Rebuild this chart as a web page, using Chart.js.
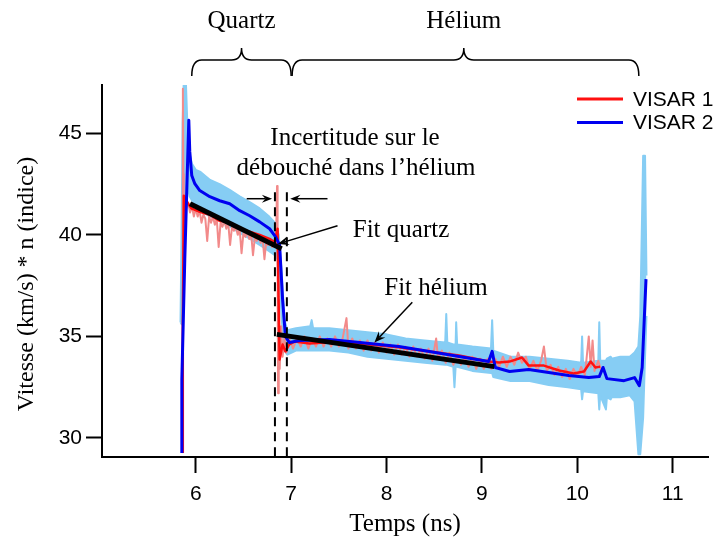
<!DOCTYPE html>
<html>
<head>
<meta charset="utf-8">
<script src="https://cdn.jsdelivr.net/npm/chart.js@4.4.1/dist/chart.umd.min.js"></script>
<style>
  html, body { margin: 0; padding: 0; background: #fff; }
  #wrap { width: 727px; height: 542px; }
</style>
</head>
<body>
<div id="wrap"><canvas id="myChart" width="727" height="542"></canvas></div>
<script>
// VISAR 2 brut (bande bleu clair) : enveloppe haute / basse
const tBlueRaw = [5.840, 5.852, 5.862, 5.875, 5.895, 5.915, 5.935, 5.960, 6.000, 6.050, 6.150, 6.250, 6.360, 6.460, 6.570, 6.670, 6.770, 6.830, 6.870, 6.900, 6.930, 6.960, 7.050, 7.200, 7.215, 7.230, 7.400, 7.600, 7.800, 8.000, 8.200, 8.400, 8.615, 8.626, 8.637, 8.700, 8.712, 8.724, 8.730, 8.740, 8.900, 9.095, 9.107, 9.119, 9.300, 9.500, 9.700, 9.900, 10.040, 10.050, 10.060, 10.220, 10.230, 10.240, 10.300, 10.310, 10.350, 10.360, 10.450, 10.550, 10.600, 10.640, 10.660, 10.690, 10.710, 10.725];
const blueRawHigh = [35.7, 40.5, 45.5, 47.7, 47.7, 45.0, 44.0, 43.5, 43.2, 43.1, 42.7, 42.5, 42.2, 41.9, 41.6, 41.3, 40.9, 40.6, 40.0, 38.2, 35.8, 35.3, 35.4, 35.5, 35.8, 35.4, 35.4, 35.3, 35.2, 35.1, 34.9, 34.8, 34.7, 36.1, 34.7, 34.6, 34.6, 34.6, 35.7, 34.6, 34.5, 34.4, 35.8, 34.3, 34.0, 34.0, 33.9, 33.8, 33.7, 35.0, 33.7, 33.8, 35.7, 33.8, 33.8, 33.9, 34.0, 33.9, 34.0, 34.0, 34.2, 34.5, 36.0, 43.9, 43.9, 38.0];
const blueRawLow = [35.7, 35.6, 36.5, 39.0, 42.0, 42.4, 41.9, 41.7, 41.4, 41.2, 40.9, 40.7, 40.4, 40.1, 39.8, 39.5, 39.2, 39.0, 38.7, 35.9, 34.3, 34.1, 34.3, 34.3, 34.3, 34.3, 34.3, 34.2, 34.0, 33.9, 33.8, 33.7, 33.6, 33.6, 33.6, 33.5, 32.5, 33.5, 33.5, 33.5, 33.3, 33.2, 33.2, 33.0, 32.8, 32.8, 32.6, 32.5, 32.4, 31.9, 32.3, 32.2, 31.4, 32.1, 31.4, 32.0, 31.9, 32.0, 32.0, 32.1, 31.8, 29.2, 29.2, 31.0, 34.0, 36.0];

// VISAR 1 brut (rouge clair)
const tRedRaw = [5.862, 5.864, 5.866, 5.870, 5.874,
  5.88, 5.90, 5.92, 5.94, 5.96, 5.98, 6.00, 6.02, 6.04, 6.06, 6.08, 6.10, 6.12, 6.14, 6.16, 6.18, 6.20, 6.22, 6.24, 6.26, 6.28, 6.30, 6.32, 6.34, 6.36, 6.38, 6.40, 6.42, 6.44, 6.46, 6.48, 6.50, 6.52, 6.54, 6.56, 6.58, 6.60, 6.62, 6.64, 6.66, 6.68, 6.70, 6.72, 6.74, 6.76, 6.78, 6.80, 6.82, 6.84,
  6.852, 6.858, 6.863, 6.870, 6.880, 6.895, 6.910, 6.930, 6.950,
  6.98, 7.02, 7.06, 7.10, 7.14, 7.18, 7.22, 7.26, 7.30, 7.34, 7.38, 7.42, 7.46, 7.50, 7.54, 7.58, 7.60, 7.64, 7.68, 7.72, 7.76, 7.80, 7.84, 7.88, 7.92, 7.96, 8.00, 8.04, 8.08, 8.12, 8.16, 8.20, 8.24, 8.28, 8.32, 8.36, 8.40, 8.44, 8.48, 8.52, 8.54, 8.58, 8.62, 8.66, 8.70, 8.74, 8.78, 8.82, 8.86, 8.90, 8.94, 8.98, 9.02, 9.06, 9.10, 9.14, 9.18, 9.22, 9.26, 9.30, 9.34, 9.38, 9.42, 9.46, 9.50, 9.54, 9.58, 9.62, 9.65, 9.68, 9.72, 9.76, 9.80, 9.84, 9.88, 9.92, 9.96, 10.00, 10.04, 10.08, 10.12, 10.14, 10.16, 10.18, 10.22, 10.25];
const redRaw = [29.3, 38.0, 47.2, 43.0, 41.6,
  41.9, 41.3, 41.6, 41.1, 41.4, 40.9, 41.3, 40.9, 41.2, 40.6, 41.0, 40.8, 39.7, 40.9, 40.6, 40.9, 40.5, 40.8, 39.4, 40.6, 40.4, 40.7, 40.3, 40.6, 39.5, 40.4, 40.2, 40.4, 40.0, 40.3, 39.1, 40.1, 39.9, 40.2, 39.8, 40.1, 39.0, 39.9, 39.7, 40.0, 39.6, 39.9, 38.8, 39.7, 39.5, 39.8, 39.4, 39.7, 39.5,
  42.4, 38.5, 32.2, 36.8, 33.4, 35.5, 34.0, 34.9, 34.2,
  34.9, 34.4, 34.9, 34.5, 35.0, 34.4, 34.9, 34.5, 35.0, 34.5, 34.9, 34.5, 35.0, 34.5, 34.9, 35.9, 34.4, 34.9, 34.4, 34.8, 34.3, 34.8, 34.3, 34.7, 34.2, 34.7, 34.2, 34.6, 34.1, 34.6, 34.1, 34.5, 34.0, 34.5, 34.0, 34.4, 33.9, 34.4, 33.8, 34.9, 33.9, 34.3, 33.7, 34.2, 33.6, 34.1, 33.6, 34.0, 33.5, 34.0, 33.4, 33.9, 33.4, 33.9, 33.4, 33.9, 33.5, 34.0, 33.5, 34.0, 33.6, 34.2, 33.7, 34.0, 33.4, 33.8, 33.3, 33.8, 34.5, 33.3, 33.6, 33.1, 33.5, 33.0, 33.4, 32.9, 33.4, 33.0, 33.5, 33.1, 35.0, 33.5, 34.8, 33.3, 33.8, 33.3];

// VISAR 1 lissé (rouge)
const tRed = [5.864, 5.864, 5.875, 5.906, 5.958, 6.042, 6.147, 6.251, 6.356, 6.461, 6.565, 6.670, 6.774, 6.826, 6.858, 6.868, 6.879, 6.910, 6.940, 6.980, 7.040, 7.190, 7.510, 7.820, 8.130, 8.450, 8.760, 9.070, 9.180, 9.290, 9.420, 9.490, 9.650, 9.810, 9.960, 10.070, 10.140, 10.190, 10.240];
const red = [29.26, 35.35, 41.93, 41.63, 41.29, 41.14, 40.99, 40.69, 40.59, 40.30, 40.15, 40.00, 39.80, 39.65, 40.30, 36.83, 33.86, 34.60, 34.26, 34.60, 34.75, 34.65, 34.75, 34.60, 34.46, 34.26, 34.06, 33.76, 33.71, 33.76, 33.96, 33.56, 33.56, 33.32, 33.17, 33.27, 33.76, 33.47, 33.51];

// VISAR 2 lissé (bleu)
const tBlue = [5.854, 5.854, 5.885, 5.927, 5.937, 5.958, 5.990, 6.042, 6.147, 6.251, 6.356, 6.461, 6.565, 6.670, 6.774, 6.837, 6.879, 6.910, 6.940, 6.980, 7.090, 7.400, 7.720, 8.130, 8.450, 8.760, 9.070, 9.107, 9.140, 9.290, 9.490, 9.700, 9.910, 10.120, 10.230, 10.270, 10.310, 10.490, 10.600, 10.650, 10.680, 10.720];
const blue = [29.26, 32.87, 38.81, 45.64, 44.11, 42.92, 42.52, 42.18, 41.88, 41.68, 41.53, 41.19, 40.94, 40.64, 40.30, 39.90, 39.50, 36.83, 35.00, 34.70, 34.80, 34.85, 34.70, 34.50, 34.26, 34.01, 33.76, 34.26, 33.47, 33.27, 33.37, 33.22, 33.07, 32.97, 33.02, 33.47, 32.92, 32.82, 32.97, 32.57, 33.47, 37.82];

// fits linéaires
const fitQuartzT = [5.94, 6.90];
const fitQuartzV = [41.53, 39.31];
const fitHeliumT = [6.85, 9.13];
const fitHeliumV = [35.10, 33.51];

// incertitude sur le débouché (lignes pointillées)
const debouchT = [6.83, 6.955];

const xTickValues = [6, 7, 8, 9, 10, 11];
const yTickValues = [30, 35, 40, 45];

const serif = '"Liberation Serif", "Times New Roman", serif';
const sans = '"Liberation Sans", Arial, sans-serif';

function pts(xs, ys) {
    return xs.map((x, i) => ({ x: x, y: ys[i] }));
}

function drawArrow(ctx, x1, y1, x2, y2, head) {
    const a = Math.atan2(y2 - y1, x2 - x1);
    ctx.beginPath();
    ctx.moveTo(x1, y1);
    ctx.lineTo(x2 - Math.cos(a) * head * 0.6, y2 - Math.sin(a) * head * 0.6);
    ctx.stroke();
    ctx.beginPath();
    ctx.moveTo(x2, y2);
    ctx.lineTo(x2 - head * Math.cos(a - 0.38), y2 - head * Math.sin(a - 0.38));
    ctx.lineTo(x2 - head * 0.6 * Math.cos(a), y2 - head * 0.6 * Math.sin(a));
    ctx.lineTo(x2 - head * Math.cos(a + 0.38), y2 - head * Math.sin(a + 0.38));
    ctx.closePath();
    ctx.fill();
}

function drawBrace(ctx, xa, xm, xb, yTip, yMid, yEnd) {
    const r = 10;
    ctx.beginPath();
    ctx.moveTo(xa, yEnd);
    ctx.quadraticCurveTo(xa, yMid, xa + r, yMid);
    ctx.lineTo(xm - r, yMid);
    ctx.quadraticCurveTo(xm, yMid, xm, yTip);
    ctx.quadraticCurveTo(xm, yMid, xm + r, yMid);
    ctx.lineTo(xb - r, yMid);
    ctx.quadraticCurveTo(xb, yMid, xb, yEnd);
    ctx.stroke();
}

// annotations : accolades, textes, flèches, pointillés, légende
const annotationsPlugin = {
    id: 'annotations',
    afterDatasetsDraw(chart) {
        const ctx = chart.ctx;
        const xs = chart.scales.x;
        const ys = chart.scales.y;
        const X = v => xs.getPixelForValue(v);
        const Y = v => ys.getPixelForValue(v);

        ctx.save();
        ctx.strokeStyle = '#000';
        ctx.fillStyle = '#000';

        // pointillés verticaux
        ctx.lineWidth = 2;
        ctx.setLineDash([9, 6]);
        debouchT.forEach(t => {
            ctx.beginPath();
            ctx.moveTo(X(t), Y(42.1));
            ctx.lineTo(X(t), ys.bottom);
            ctx.stroke();
        });
        ctx.setLineDash([]);

        // flèches d'incertitude
        ctx.lineWidth = 1.5;
        drawArrow(ctx, X(6.534), Y(41.78), X(6.80), Y(41.78), 11);
        drawArrow(ctx, X(7.381), Y(41.78), X(6.99), Y(41.78), 11);

        // flèches des fits
        drawArrow(ctx, X(7.486), Y(40.45), X(6.86), Y(39.55), 12);
        drawArrow(ctx, X(8.27), Y(36.68), X(7.873), Y(34.70), 12);

        // textes
        ctx.font = '25px ' + serif;
        ctx.textAlign = 'center';
        ctx.textBaseline = 'alphabetic';
        ctx.fillText('Incertitude sur le', 355, 145);
        ctx.fillText('débouché dans l\u2019hélium', 356, 175);
        ctx.fillText('Fit quartz', 401, 237);
        ctx.fillText('Fit hélium', 436, 295);
        ctx.fillText('Quartz', X(6.48), 28);
        ctx.fillText('Hélium', X(8.81), 28);

        // accolades
        ctx.lineWidth = 1.5;
        drawBrace(ctx, X(5.958), X(6.48), X(7.0), 48, 60, 76);
        drawBrace(ctx, X(7.01), X(8.81), X(10.645), 48, 60, 76);

        // titre de l'axe y
        ctx.save();
        ctx.translate(27, 284);
        ctx.rotate(-Math.PI / 2);
        ctx.font = '24px ' + serif;
        ctx.textBaseline = 'middle';
        ctx.fillText('Vitesse (km/s) * n (indice)', 0, 0);
        ctx.restore();

        // légende : VISAR 1 puis VISAR 2
        const entries = chart.data.datasets
            .filter(d => d.showInLegend)
            .sort((a, b) => a.label.localeCompare(b.label));
        ctx.font = '21px ' + sans;
        ctx.textAlign = 'left';
        ctx.textBaseline = 'middle';
        entries.forEach((d, i) => {
            const y = 99 + i * 23.5;
            ctx.strokeStyle = d.borderColor;
            ctx.lineWidth = 3;
            ctx.beginPath();
            ctx.moveTo(577, y);
            ctx.lineTo(623, y);
            ctx.stroke();
            ctx.fillStyle = '#000';
            ctx.fillText(d.label, 633, y + 1);
        });
        ctx.restore();
    }
};

const lightBlue = '#86cdf4';
const lightRed = '#f28a8a';

const datasets = [
    { label: 'Fit quartz', data: pts(fitQuartzT, fitQuartzV), borderColor: '#000', borderWidth: 5, order: 0 },
    { label: 'Fit hélium', data: pts(fitHeliumT, fitHeliumV), borderColor: '#000', borderWidth: 5, order: 0 },
    { label: 'VISAR 2', showInLegend: true, data: pts(tBlue, blue), borderColor: '#0000f0', borderWidth: 3, order: 1 },
    { label: 'VISAR 1', showInLegend: true, data: pts(tRed, red), borderColor: '#ff1010', borderWidth: 2.5, order: 2 },
    { label: 'VISAR 1 brut', data: pts(tRedRaw, redRaw), borderColor: lightRed, borderWidth: 2, order: 3 },
    { label: 'VISAR 2 brut haut', data: pts(tBlueRaw, blueRawHigh), borderColor: lightBlue, borderWidth: 2, order: 5 },
    { label: 'VISAR 2 brut bas', data: pts(tBlueRaw, blueRawLow), borderColor: lightBlue, backgroundColor: lightBlue, borderWidth: 2, fill: '-1', order: 4 }
];

const axisGrid = {
    display: true,
    drawOnChartArea: false,
    drawTicks: true,
    tickLength: 16,
    tickWidth: 2,
    tickColor: '#000'
};

const canvas = document.getElementById('myChart');
const ctx = canvas.getContext('2d');

new Chart(ctx, {
    type: 'line',
    data: { datasets: datasets },
    options: {
        responsive: false,
        devicePixelRatio: 1,
        animation: false,
        layout: { padding: { left: 0, top: 85, right: 19, bottom: 0 } },
        elements: {
            point: { radius: 0 },
            line: { tension: 0, fill: false, borderJoinStyle: 'round', borderCapStyle: 'butt' }
        },
        plugins: {
            legend: { display: false },
            tooltip: { enabled: false }
        },
        scales: {
            x: {
                type: 'linear',
                min: 5.017,
                max: 11.37,
                afterBuildTicks: scale => { scale.ticks = xTickValues.map(v => ({ value: v })); },
                afterFit: scale => { scale.height = 85; },
                grid: axisGrid,
                border: { display: true, color: '#000', width: 2 },
                ticks: { color: '#000', font: { family: sans, size: 21 }, padding: 9, maxRotation: 0 },
                title: { display: true, text: 'Temps (ns)', color: '#000', font: { family: serif, size: 25 }, padding: { top: 0, bottom: 3 } }
            },
            y: {
                type: 'linear',
                min: 29.06,
                max: 47.38,
                afterBuildTicks: scale => { scale.ticks = yTickValues.map(v => ({ value: v })); },
                afterFit: scale => { scale.width = 102; },
                grid: axisGrid,
                border: { display: true, color: '#000', width: 2 },
                ticks: { color: '#000', font: { family: sans, size: 21 }, padding: 4 }
            }
        }
    },
    plugins: [annotationsPlugin]
});
</script>
</body>
</html>
